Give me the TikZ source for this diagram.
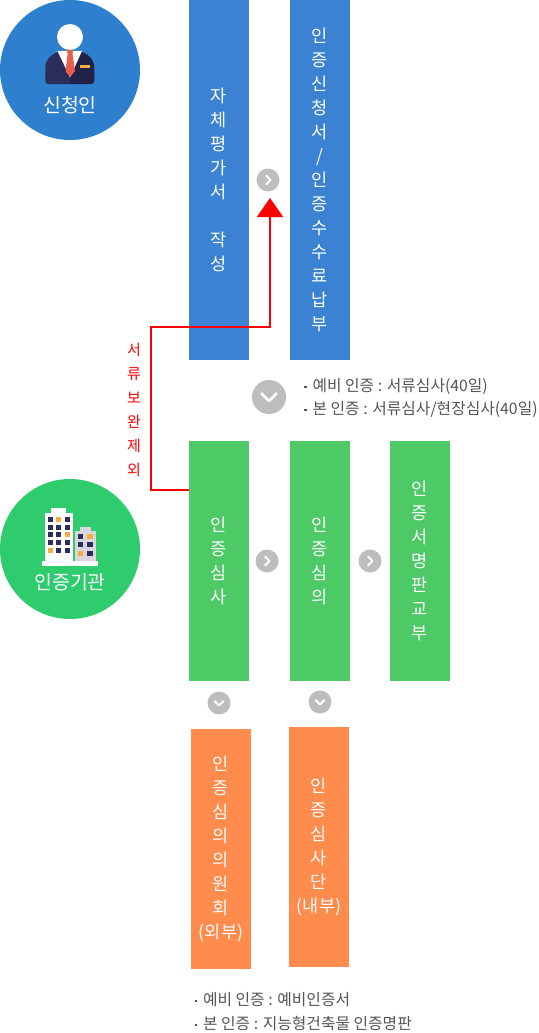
\documentclass[tikz,border=0pt]{standalone}
\usepackage{fontspec}
\setmainfont{Noto Sans CJK KR}
\usetikzlibrary{arrows.meta}
\definecolor{bluebox}{HTML}{3B82D2}
\definecolor{bluecirc}{HTML}{2E7FCE}
\definecolor{greenbox}{HTML}{4DCA66}
\definecolor{greencirc}{HTML}{2ECC6C}
\definecolor{orangebox}{HTML}{FF8B4D}
\definecolor{greycirc}{HTML}{BDBDBD}
\definecolor{navyA}{HTML}{2D2D5C}
\definecolor{navyB}{HTML}{21214A}
\definecolor{tiered}{HTML}{E8604C}
\definecolor{amber}{HTML}{F8AE3C}
\definecolor{lilac}{HTML}{DAD5DF}
\definecolor{txtgrey}{HTML}{555555}
\newcommand{\fs}[1]{\fontsize{#1pt}{24pt}\selectfont}
\newcommand{\bul}{\rule[4pt]{2.4pt}{2.4pt}\hspace{6pt}}
\tikzset{
  box/.style={minimum width=60pt,minimum height=240pt,inner sep=0pt,text=white,align=center,font=\fs{17.5}},
  bluestage/.style={box,fill=bluebox,minimum height=#1},
  greenstage/.style={box,fill=greenbox},
  orangestage/.style={box,fill=orangebox},
  badge/.style={circle,inner sep=0pt,minimum size=140pt},
  roundbtn/.style={circle,fill=greycirc,inner sep=0pt,minimum size=#1},
  chev/.style={draw=white,line width=#1,line cap=round,line join=round},
  note/.style={anchor=west,inner sep=0pt,text=txtgrey,font=\fs{15.8}},
  win/.style={fill=navyA},
  winA/.style={fill=amber}
}
\newcommand{\winat}[4]{\fill[#1] (#2-#4/2,#3-#4/2) rectangle (#2+#4/2,#3+#4/2);}
\begin{document}
\begin{tikzpicture}[x=1pt,y=-1pt]
\useasboundingbox (0,0) rectangle (538,1033);
% blue stages
\node[bluestage=360pt] (b1) at (219,180) {자\\체\\평\\가\\서\\[24pt]작\\성};
\node[bluestage=360pt] (b2) at (320,180) {인\\증\\신\\청\\서\\/\\인\\증\\수\\수\\료\\납\\부};
% green stages
\node[greenstage] (g1) at (219,561) {인\\증\\심\\사};
\node[greenstage] (g2) at (320,561) {인\\증\\심\\의};
\node[greenstage] (g3) at (420,561) {인\\증\\서\\명\\판\\교\\부};
% orange stages
\node[orangestage] (o1) at (221,849) {인\\증\\심\\의\\의\\원\\회\\(외부)};
\node[orangestage] (o2) at (319,847) {인\\증\\심\\사\\단\\(내부)};
% badges
\node[badge,fill=bluecirc] (c1) at (70,70) {};
\node[badge,fill=greencirc] (c2) at (70,549) {};
% person icon
\fill[navyA] (70,52) -- (58,52) .. controls (50,55) and (45.3,60) .. (45.3,68) -- (45.3,81) .. controls (45.3,83) and (46.5,84) .. (48,84) -- (70,84) -- cycle;
\fill[navyB] (70,52) -- (82,52) .. controls (90,55) and (94.3,60) .. (94.3,68) -- (94.3,81) .. controls (94.3,83) and (93,84) .. (91,84) -- (70,84) -- cycle;
\fill[white] (57.5,51) -- (82,51) -- (70,77.5) -- cycle;
\fill[white] (70,37) circle (13);
\fill[tiered] (67,50) -- (73,50) -- (72.5,54) -- (75,71) -- (70,77) -- (65.5,71) -- (67.7,54) -- cycle;
\fill[amber] (80,65) rectangle (90,68.5);
\node[text=white,inner sep=0pt,font=\fs{19.4}] (c1t) at (70,105) {신청인};
% building icon
\fill[white] (51,508) rectangle (66,514);
\fill[white] (44.7,513) rectangle (73,561);
\fill[lilac] (80,527) rectangle (91,532);
\fill[lilac] (75,531) rectangle (96,561);
\fill[white] (42,561) rectangle (98,565.5);
\foreach \x in {50.3,58.7,67}{\foreach \y in {519.3,527,534.7,542.3,550}{\winat{navyA}{\x}{\y}{5}}}
\winat{amber}{58.7}{519.3}{5}
\winat{amber}{67}{534.7}{5}
\winat{amber}{50.3}{550}{5}
\foreach \x in {80.7,90}{\foreach \y in {536.3,544.7,553.3}{\winat{navyA}{\x}{\y}{5.5}}}
\winat{amber}{90}{536.3}{5.5}
\winat{amber}{80.7}{553.3}{5.5}
\node[text=white,inner sep=0pt,font=\fs{19.4}] (c2t) at (70,582) {인증기관};
% round buttons
\node[roundbtn=23pt] (r1) at (268,180) {};
\draw[chev=1.8pt] (266,175.5) -- (270.5,180) -- (266,184.5);
\node[roundbtn=34pt] (r2) at (269,397) {};
\draw[chev=2.8pt] (261.5,393.5) -- (269,401) -- (276.5,393.5);
\node[roundbtn=23pt] (r3) at (267,561) {};
\draw[chev=1.8pt] (265,556.5) -- (269.5,561) -- (265,565.5);
\node[roundbtn=23pt] (r4) at (370,561) {};
\draw[chev=1.8pt] (368,556.5) -- (372.5,561) -- (368,565.5);
\node[roundbtn=23pt] (r5) at (219,703) {};
\draw[chev=1.8pt] (214.5,701) -- (219,705.5) -- (223.5,701);
\node[roundbtn=23pt] (r6) at (320,702) {};
\draw[chev=1.8pt] (315.5,700) -- (320,704.5) -- (324.5,700);
% red return
\coordinate (redstart) at (g1.west |- 0,490);
\coordinate (redtip) at (270,198);
\draw[red,line width=1.6pt,-{Triangle[length=19pt,width=26pt]}] (redstart) -- (151,490) -- (151,327) -- (270,327) -- (redtip);
\node[text=red,inner sep=0pt,align=center,font=\fs{15}] (redlab) at (134,410) {서\\류\\보\\완\\제\\외};
% notes
\node[note] (n1) at (304,387) {\bul 예비 인증 : 서류심사(40일)};
\node[note] (n2) at (304,410) {\bul 본 인증 : 서류심사/현장심사(40일)};
\node[note] (n3) at (194.5,1000) {\bul 예비 인증 : 예비인증서};
\node[note] (n4) at (194.5,1024) {\bul 본 인증 : 지능형건축물 인증명판};
\end{tikzpicture}
\end{document}
